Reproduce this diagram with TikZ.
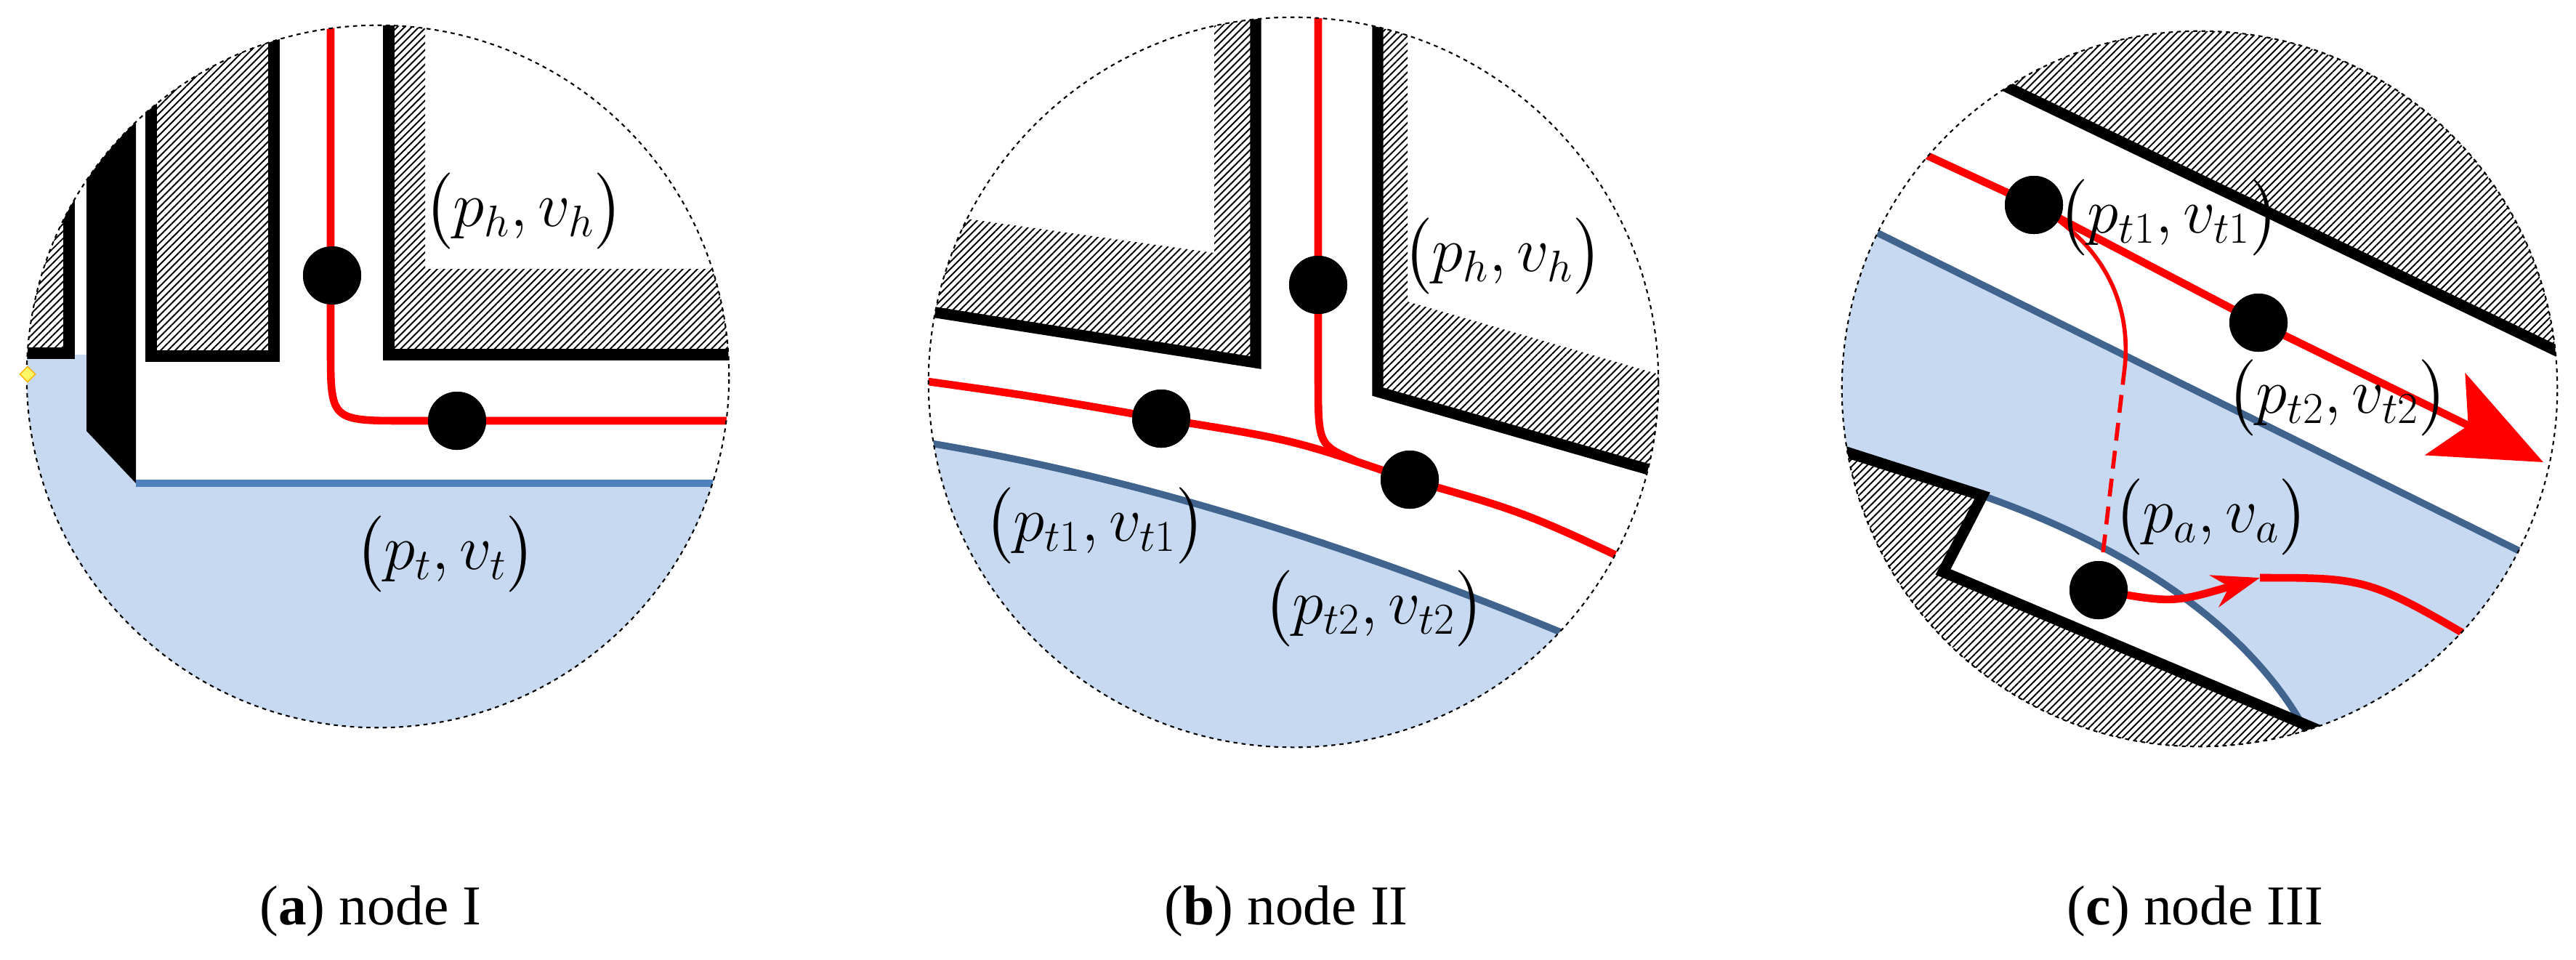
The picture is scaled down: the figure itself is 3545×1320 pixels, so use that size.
\documentclass[tikz,border=0pt]{standalone}
\usepackage{amsmath}
\usepackage{fontspec}
\setmainfont{Liberation Serif}
\usepackage{xcolor}
\usetikzlibrary{positioning}
\usetikzlibrary{patterns.meta, shapes.geometric, arrows.meta}
\definecolor{waterblue}{HTML}{C6D9F0}
\definecolor{shoreA}{HTML}{4F81BD}
\definecolor{shoreB}{HTML}{41648F}

\begin{document}
\begin{tikzpicture}[x=0.01cm, y=-0.01cm,
		rim/.style={draw, line width=0.6pt, dash pattern=on 1.6pt off 1.6pt},
		hatch/.style={pattern={Lines[angle=45, distance=2pt, line width=0.55pt]}},
		wall/.style={line width=4.3pt, line join=miter},
		water/.style={fill=waterblue},
		shore/.style={line width=2.7pt},
		traj/.style={red, line width=3pt},
		thintraj/.style={red, line width=1.6pt},
		dot/.style={circle, fill=black, inner sep=0pt, minimum size=0.8cm},
		lbl/.style={font=\fontsize{27}{32}\selectfont},
		caption/.style={font=\fontsize{22}{26}\selectfont}
	]
	
	\useasboundingbox (0,0) rectangle (3545,1320);
	
	\coordinate (ca) at (520,518);
	\coordinate (cb) at (1780,526);
	\coordinate (cc) at (3027,535);
	
	%node I
	\begin{scope}
		\clip (ca) circle[radius=4.83cm];
		\fill[water] (0,488) -- (119,488) -- (119,593) -- (187,665) -- (1100,665) -- (1100,1100) -- (0,1100) -- cycle;
		\fill[hatch] (0,0) rectangle (95,486);
		\draw[wall] (95,0) -- (95,486) -- (0,486);
		\fill (119,0) -- (187,0) -- (187,665) -- (119,593) -- cycle;
		\fill[hatch] (208,0) rectangle (377,490);
		\draw[wall] (208,0) -- (208,490) -- (377,490) -- (377,0);
		\fill[hatch] (535,0) -- (535,488) -- (1100,488) -- (1100,370) -- (585,370) -- (585,0) -- cycle;
		\draw[wall] (535,0) -- (535,488) -- (1100,488);
		\draw[shore, shoreA] (187,665) -- (1100,665);
		
		\coordinate (ra0) at (455,0);
		\coordinate (ra1) at (1100,579);
		\node[dot] (a1) at (457,379) {};
		\node[dot] (a2) at (629,579) {};
		\draw[traj] (ra0) -- (455,480) .. controls (455,579) .. (560,579) -- (ra1);
		\node[dot] at (a1) {};
		\node[dot] at (a2) {};
	\end{scope}
	\draw[rim] (ca) circle[radius=4.83cm];
	\node[diamond, draw=orange!60!yellow, fill=yellow!60, inner sep=0pt, minimum size=0.22cm] (mark) at (38,515) {};
	\node[lbl] (pha) at (721,290) {$\bigl(p_h,v_h\bigr)$};
	\node[lbl] (pta) at (613,762) {$\bigl(p_t,v_t\bigr)$};
	\node[caption] (capa) at (510,1254) {(\textbf{a}) node I};
	
	%node II
	\begin{scope}
		\clip (cb) circle[radius=5.02cm];
		\fill[water] (1250,605) .. controls (1600,660) and (1950,780) .. (2300,935) -- (2300,1100) -- (1250,1100) -- cycle;
		\draw[shore, shoreB] (1250,605) .. controls (1600,660) and (1950,780) .. (2300,935);
		\fill[hatch] (1250,290) -- (1671,348) -- (1671,0) -- (1728,0) -- (1728,499) -- (1250,424) -- cycle;
		\draw[wall] (1728,0) -- (1728,499) -- (1250,424);
		\fill[hatch] (1937,0) -- (1937,415) -- (2300,520) -- (2300,655) -- (1896,539) -- (1896,0) -- cycle;
		\draw[wall] (1896,0) -- (1896,539) -- (2300,655);
		
		\coordinate (rb0) at (1270,524);
		\coordinate (rb1) at (2300,800);
		\coordinate (rb2) at (1814,0);
		\node[dot] (b1) at (1814,392) {};
		\node[dot] (b2) at (1598,576) {};
		\node[dot] (b3) at (1940,660) {};
		\draw[traj] (rb0) .. controls (1420,545) .. (b2.center) .. controls (1780,605) .. (b3.center) .. controls (2100,705) .. (rb1);
		\draw[traj] (rb2) -- (b1.center) -- (1814,520) .. controls (1814,612) .. (1865,634);
		\node[dot] at (b1) {};
		\node[dot] at (b2) {};
		\node[dot] at (b3) {};
	\end{scope}
	\draw[rim] (cb) circle[radius=5.02cm];
	\node[lbl] (phb) at (2068,352) {$\bigl(p_h,v_h\bigr)$};
	\node[lbl] (pt1b) at (1507,723) {$\bigl(p_{t1},v_{t1}\bigr)$};
	\node[lbl] (pt2b) at (1891,837) {$\bigl(p_{t2},v_{t2}\bigr)$};
	\node[caption] (capb) at (1770,1254) {(\textbf{b}) node II};
	
	%node III
	\begin{scope}
		\clip (cc) circle[radius=4.92cm];
		\fill[water] (2500,279) -- (3600,824) -- (3600,1100) -- (3200,1100) -- (3190,1040) .. controls (3120,880) and (2950,760) .. (2728,682) -- (2500,609) -- cycle;
		\draw[shore, shoreB] (2500,279) -- (3600,824);
		\draw[shore, shoreB] (2728,682) .. controls (2950,760) and (3120,880) .. (3190,1040);
		\fill[hatch] (2500,-6) -- (3600,522) -- (3600,-50) -- (2500,-50) -- cycle;
		\draw[wall] (2500,-6) -- (3600,522);
		\fill[hatch] (2500,609) -- (2728,682) -- (2674,787) -- (3260,1034) -- (3260,1100) -- (2500,1100) -- cycle;
		\draw[wall] (2500,609) -- (2728,682) -- (2674,787) -- (3260,1034);
		
		\coordinate (rc0) at (2600,190);
		\coordinate (rc1) at (3500,636);
		\coordinate (rc2) at (2924,505);
		\coordinate (rc3) at (3110,795);
		\coordinate (rc4) at (3430,895);
		\node[dot] (c1) at (2799,282) {};
		\node[dot] (c2) at (3108,444) {};
		\node[dot] (c3) at (2888,812) {};
		\draw[traj, -{Stealth[length=1.5cm, width=1.25cm, inset=0.35cm]}] (rc0) -- (c1.center) -- (c2.center) -- (rc1);
		\draw[thintraj] (c1.center) .. controls (2905,340) and (2932,430) .. (rc2);
		\draw[thintraj, dash pattern=on 7pt off 4pt] (rc2) -- (c3.center);
		\draw[traj, -{Stealth[length=0.65cm, width=0.45cm]}] (c3.center) .. controls (2990,830) .. (rc3);
		\draw[traj] (rc3) .. controls (3260,795) .. (rc4);
		\node[dot] at (c1) {};
		\node[dot] at (c2) {};
		\node[dot] at (c3) {};
	\end{scope}
	\draw[rim] (cc) circle[radius=4.92cm];
	\node[lbl] (pt1c) at (2985,299) {$\bigl(p_{t1},v_{t1}\bigr)$};
	\node[lbl] (pt2c) at (3217,547) {$\bigl(p_{t2},v_{t2}\bigr)$};
	\node[lbl] (pac) at (3043,711) {$\bigl(p_a,v_a\bigr)$};
	\node[caption] (capc) at (3021,1254) {(\textbf{c}) node III};
\end{tikzpicture}
\end{document}
